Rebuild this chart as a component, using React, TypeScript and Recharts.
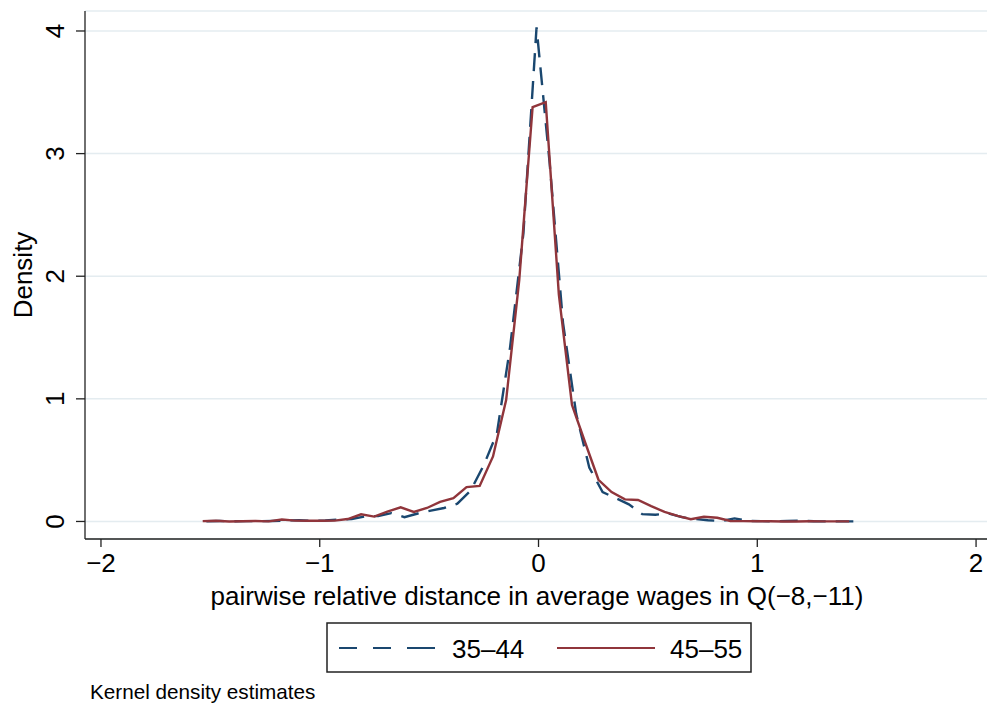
import React from "react";
import { LineChart, Line, XAxis, YAxis, CartesianGrid } from "recharts";

// kernel density evaluation points and estimates
const xYoung = [
  -1.518, -1.457, -1.397, -1.337, -1.276, -1.216, -1.156, -1.095, -1.035, -0.975,
  -0.914, -0.854, -0.794, -0.733, -0.673, -0.613, -0.552, -0.492, -0.432, -0.371,
  -0.311, -0.25, -0.19, -0.13, -0.069, -0.009, 0.051, 0.112, 0.172, 0.232,
  0.293, 0.353, 0.413, 0.474, 0.534, 0.594, 0.655, 0.715, 0.775, 0.836,
  0.896, 0.956, 1.017, 1.077, 1.137, 1.198, 1.258, 1.318, 1.379, 1.439,
];
const yYoung = [
  0.002, 0.004, 0.001, 0.003, 0.002, 0.004, 0.008, 0.01, 0.005, 0.008,
  0.015, 0.02, 0.04, 0.045, 0.068, 0.035, 0.065, 0.088, 0.11, 0.145,
  0.25, 0.46, 0.72, 1.42, 2.35, 4.03, 2.92, 1.62, 0.88, 0.44,
  0.24, 0.19, 0.14, 0.06, 0.055, 0.065, 0.035, 0.02, 0.01, 0.003,
  0.025, 0.005, 0.003, 0.002, 0.004, 0.006, 0.002, 0.001, 0.001, 0.001,
];

const xOld = [
  -1.535, -1.475, -1.414, -1.354, -1.294, -1.234, -1.173, -1.113, -1.053, -0.992,
  -0.932, -0.872, -0.811, -0.751, -0.691, -0.63, -0.57, -0.51, -0.45, -0.389,
  -0.329, -0.269, -0.208, -0.148, -0.088, -0.027, 0.033, 0.093, 0.153, 0.214,
  0.274, 0.334, 0.395, 0.455, 0.515, 0.576, 0.636, 0.696, 0.756, 0.817,
  0.877, 0.937, 0.998, 1.058, 1.118, 1.179, 1.239, 1.299, 1.359, 1.42,
];
const yOld = [
  0.003, 0.006, 0.0, 0.002, 0.004, 0.001, 0.016, 0.007, 0.006, 0.006,
  0.007, 0.02, 0.058, 0.04, 0.08, 0.115, 0.078, 0.11, 0.16, 0.19,
  0.28, 0.29, 0.53, 0.99, 1.97, 3.38, 3.42, 1.85, 0.95, 0.64,
  0.34, 0.24, 0.18, 0.175, 0.125, 0.078, 0.045, 0.018, 0.038, 0.03,
  0.004, 0.003, 0.002, 0.002, 0.0, 0.0, 0.002, 0.001, 0.001, 0.001,
];

const xTicks = [-2, -1, 0, 1, 2];
const yTicks = [0, 1, 2, 3, 4];
const seriesNames = ["35\u201344", "45\u201355"];

const navy = "#1a476f";
const maroon = "#90353b";
const font = "'Liberation Sans', Arial, Helvetica, sans-serif";

const young = xYoung.map((x, i) => ({ x, y: yYoung[i] }));
const old = xOld.map((x, i) => ({ x, y: yOld[i] }));

const minus = (v: number) => String(v).replace("-", "\u2212");

// stata puts y tick labels sideways
const YTick = (props: any) => {
  const { x, y, payload } = props;
  const bx = x - 10;
  return (
    <text
      x={bx}
      y={y}
      transform={`rotate(-90 ${bx} ${y})`}
      textAnchor="middle"
      fontSize={26}
      fontFamily={font}
      fill="#000"
    >
      {payload.value}
    </text>
  );
};

export default function App() {
  return (
    <div
      style={{
        position: "absolute",
        left: 0,
        top: 0,
        width: 988,
        height: 709,
        background: "#fff",
        fontFamily: font,
      }}
    >
      <LineChart width={988} height={709} margin={{ top: 11, right: 1, bottom: 0, left: 0 }}>
        <CartesianGrid vertical={false} stroke="#e4ecf0" strokeWidth={1.5} />
        <XAxis
          type="number"
          dataKey="x"
          domain={[-2.073, 2.05]}
          ticks={xTicks}
          allowDataOverflow
          height={170}
          tickSize={8}
          tickMargin={7}
          tickFormatter={minus}
          tick={{ fontSize: 26, fill: "#000", fontFamily: font }}
          axisLine={{ stroke: "#222", strokeWidth: 1.3 }}
          tickLine={{ stroke: "#222", strokeWidth: 1.3 }}
        />
        <YAxis
          type="number"
          domain={[-0.143, 4.163]}
          ticks={yTicks}
          allowDataOverflow
          width={85}
          tickSize={9}
          tick={<YTick />}
          axisLine={{ stroke: "#222", strokeWidth: 1.3 }}
          tickLine={{ stroke: "#222", strokeWidth: 1.3 }}
        />
        <Line
          data={young}
          dataKey="y"
          name={seriesNames[0]}
          type="linear"
          stroke={navy}
          strokeWidth={2.4}
          strokeDasharray="18 10"
          dot={false}
          isAnimationActive={false}
        />
        <Line
          data={old}
          dataKey="y"
          name={seriesNames[1]}
          type="linear"
          stroke={maroon}
          strokeWidth={2.4}
          dot={false}
          isAnimationActive={false}
        />
      </LineChart>

      {/* titles, legend and note */}
      <svg
        width={988}
        height={709}
        style={{ position: "absolute", left: 0, top: 0, pointerEvents: "none" }}
        fontFamily={font}
      >
        <text x={32} y={275} transform="rotate(-90 32 275)" textAnchor="middle" fontSize={26} fill="#000">
          Density
        </text>
        <text x={537} y={605} textAnchor="middle" fontSize={26} fill="#000">
          pairwise relative distance in average wages in Q({"\u2212"}8,{"\u2212"}11)
        </text>
        <rect x={327} y={623} width={424} height={49} fill="#fff" stroke="#222" strokeWidth={1.5} />
        <line x1={339} y1={648} x2={435} y2={648} stroke={navy} strokeWidth={2} strokeDasharray="18 16 18 16 28" />
        <text x={452} y={658} fontSize={26} fill="#000">{seriesNames[0]}</text>
        <line x1={557} y1={648} x2={655} y2={648} stroke={maroon} strokeWidth={2} />
        <text x={670} y={658} fontSize={26} fill="#000">{seriesNames[1]}</text>
        <text x={90} y={699} fontSize={20.7} fill="#000">Kernel density estimates</text>
      </svg>
    </div>
  );
}
